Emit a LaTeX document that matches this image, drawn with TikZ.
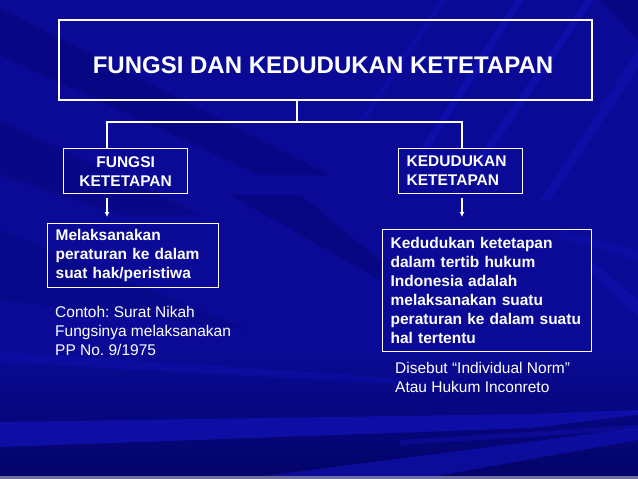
\documentclass[tikz,border=0pt]{standalone}
\usepackage{fontspec}
\setmainfont{Liberation Sans}
\usetikzlibrary{arrows.meta}
\definecolor{bgbase}{RGB}{10,10,150}
\definecolor{bgdark}{RGB}{3,3,105}
\definecolor{bglight}{RGB}{18,18,185}
\definecolor{stripgrey}{RGB}{110,110,160}
\begin{document}
\frenchspacing
\begin{tikzpicture}[x=1pt,y=-1pt,
  box/.style={draw=white, line width=1.3pt, text=white, anchor=north west,
    inner xsep=8pt, inner ysep=0pt,
    font=\fontsize{15.5}{19}\selectfont\bfseries},
  link/.style={draw=white, line width=1.3pt},
  arr/.style={link, -{Latex[length=5pt,width=5pt]}},
  note/.style={text=white, anchor=north west, align=left, inner sep=0pt,
    font=\fontsize{15.5}{19}\selectfont},
  titletext/.style={inner sep=0pt, font=\fontsize{24}{28}\selectfont\bfseries}]
% background
\useasboundingbox (0,0) rectangle (638,479);
\fill[bgbase] (0,0) rectangle (638,479);
% soft dark diagonal bands
\fill[bgdark, opacity=0.35] (0,8) -- (0,55) -- (260,175) -- (330,175) -- cycle;
\fill[bgdark, opacity=0.3] (0,120) -- (0,175) -- (120,215) -- (200,215) -- cycle;
\fill[bgdark, opacity=0.4] (230,195) -- (300,195) -- (380,260) -- (380,280) -- cycle;
\fill[bgdark, opacity=0.25] (0,230) -- (0,300) -- (250,330) -- cycle;
% light streaks upper right
\fill[bglight, opacity=0.6] (420,150) -- (515,0) -- (524,0) -- (428,150) -- cycle;
\fill[bglight, opacity=0.6] (470,170) -- (585,0) -- (594,0) -- (478,170) -- cycle;
\fill[bglight, opacity=0.5] (540,200) -- (638,50) -- (638,68) -- (550,200) -- cycle;
\fill[bglight, opacity=0.45] (360,120) -- (440,0) -- (446,0) -- (366,120) -- cycle;
\fill[bgdark, opacity=0.4] (600,0) -- (638,0) -- (638,40) -- cycle;
% right middle streaks
\fill[bglight, opacity=0.5] (590,260) -- (638,300) -- (638,316) -- (590,272) -- cycle;
\fill[bglight, opacity=0.4] (560,230) -- (638,250) -- (638,260) -- (560,238) -- cycle;
% lower region
\shade[top color=bgbase, bottom color=bgdark] (0,350) rectangle (638,476);
\fill[bglight, opacity=0.35] (0,352) -- (400,378) -- (400,384) -- (0,362) -- cycle;
\fill[bglight, opacity=0.7] (0,422) -- (530,414) -- (638,410) -- (638,415) -- (530,428) -- (0,447) -- cycle;
\fill[bglight, opacity=0.6] (240,479) -- (638,428) -- (638,440) -- (420,479) -- cycle;
\fill[bglight, opacity=0.4] (400,440) -- (638,425) -- (638,430) -- (400,445) -- cycle;
\fill[stripgrey] (0,476) rectangle (638,479);
% title
\node[draw=white, line width=1.5pt, anchor=north west, minimum width=533pt,
  minimum height=80pt, inner sep=0pt] (title) at (58,19) {};
\node[titletext, text=white] (titlelabel) at (323,65.5)
  {FUNGSI DAN KEDUDUKAN KETETAPAN};
% level 2 boxes
\node[box, text width=108pt, align=center, minimum height=45pt] (fk) at (63,148)
  {FUNGSI\\KETETAPAN};
\node[box, text width=108pt, align=left, minimum height=45pt] (kk) at (398,148)
  {KEDUDUKAN\\KETETAPAN};
% level 3 boxes
\node[box, text width=155pt, align=left, minimum height=64pt] (m1) at (47,223)
  {Melaksanakan\\peraturan ke dalam\\suat hak/peristiwa};
\node[box, text width=193pt, align=left, minimum height=122pt] (m2) at (382,229)
  {Kedudukan ketetapan\\dalam tertib hukum\\Indonesia adalah\\melaksanakan suatu\\peraturan ke dalam suatu\\hal tertentu};
% notes
\node[note] (n1) at (55,306)
  {Contoh: Surat Nikah\\Fungsinya melaksanakan\\PP No. 9/1975};
\node[note] (n2) at (395,362)
  {Disebut “Individual Norm”\\Atau Hukum Inconreto};
% connectors
\coordinate (j) at (297,122);
\coordinate (lj) at (107,122);
\coordinate (rj) at (462,122);
\draw[link] (title.south -| j) -- (j);
\draw[link] (fk.north -| lj) -- (lj) -- (rj) -- (kk.north -| rj);
\draw[arr, shorten <=4pt, shorten >=6pt] (fk.south -| lj) -- (m1.north -| lj);
\draw[arr, shorten <=4pt, shorten >=12pt] (kk.south -| rj) -- (m2.north -| rj);
\end{tikzpicture}
\end{document}
